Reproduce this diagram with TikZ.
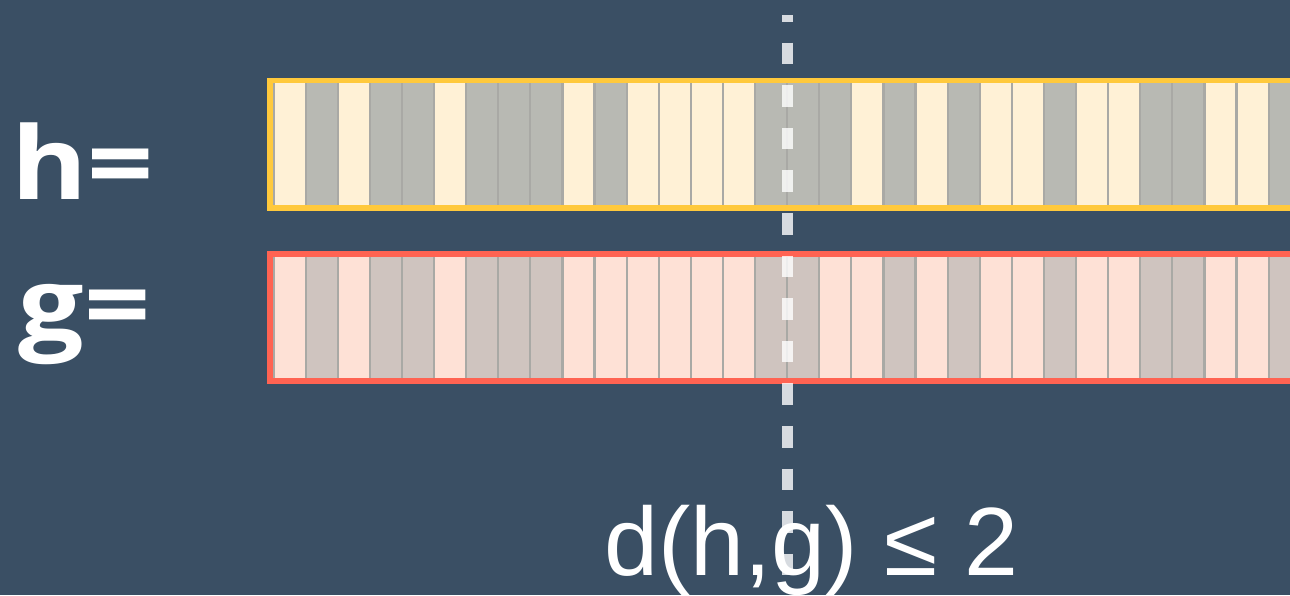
\documentclass[tikz,border=0pt]{standalone}
\usepackage{fontspec}
\setmainfont{Liberation Sans}
\newfontfamily\labelfont{Open Sans}[FakeStretch=1.15]
\definecolor{bgc}{HTML}{3A4F64}
\definecolor{hlight}{HTML}{FFF1D6}
\definecolor{hgrey}{HTML}{B8B9B3}
\definecolor{glight}{HTML}{FEE1D6}
\definecolor{ggrey}{HTML}{CFC4BF}
\definecolor{cellline}{HTML}{A9A9A5}
\definecolor{yframe}{HTML}{FFC93C}
\definecolor{rframe}{HTML}{FF6352}
\tikzset{
  cellh1/.style={fill=hlight, draw=cellline, line width=2.2pt},
  cellh0/.style={fill=hgrey, draw=cellline, line width=2.2pt},
  cellg1/.style={fill=glight, draw=cellline, line width=2.2pt},
  cellg0/.style={fill=ggrey, draw=cellline, line width=2.2pt},
  framebox/.style={line width=5.6pt, inner sep=0pt, outer sep=0pt, minimum width=1100pt, minimum height=127.4pt, anchor=north west},
  frameh/.style={framebox, draw=yframe},
  frameg/.style={framebox, draw=rframe},
  lab/.style={text=white, inner sep=0pt, outer sep=0pt, anchor=base west, font=\labelfont\bfseries\fontsize{101}{110}\selectfont},
  cut/.style={draw=white, draw opacity=0.8, line width=10.3pt, dash pattern=on 21.5pt off 21.1pt, dash phase=15pt},
  dist/.style={text=white, inner sep=0pt, anchor=base, font=\fontsize{97}{110}\selectfont}
}
\begin{document}
\begin{tikzpicture}[x=1pt,y=-1pt]
\useasboundingbox (0,0) rectangle (1290,595);
\clip (0,0) rectangle (1290,595);
\fill[bgc] (0,0) rectangle (1290,595);
% h cells
\foreach \v [count=\k from 0] in {1,0,1,0,0,1,0,0,0,1,0,1,1,1,1,0,0,0,1,0,1,0,1,1,0,1,1,0,0,1,1,0}{
  \path[cellh\v] ({273.5+32.1*\k},82) rectangle ({273.5+32.1*(\k+1)},206);
}
% g cells
\foreach \v [count=\k from 0] in {1,0,1,0,0,1,0,0,0,1,1,1,1,1,1,0,0,1,1,0,1,0,1,1,0,1,1,0,0,1,1,0}{
  \path[cellg\v] ({273.5+32.1*\k},255) rectangle ({273.5+32.1*(\k+1)},380);
}
\node[frameh] (hbox) at (270.2,80.5) {};
\node[frameg] (gbox) at (270.2,253.8) {};
\node[lab] (hlab) at (11,199.3) {h=};
\node[lab] (glab) at (18.5,340.5) {g=};
\coordinate (cuttop) at (787.4,15);
\coordinate (cutbot) at (787.4,576);
\draw[cut] (cuttop) -- (cutbot);
\node[dist] (dtext) at (811.5,575) {d(h,g) ≤ 2};
\end{tikzpicture}
\end{document}
